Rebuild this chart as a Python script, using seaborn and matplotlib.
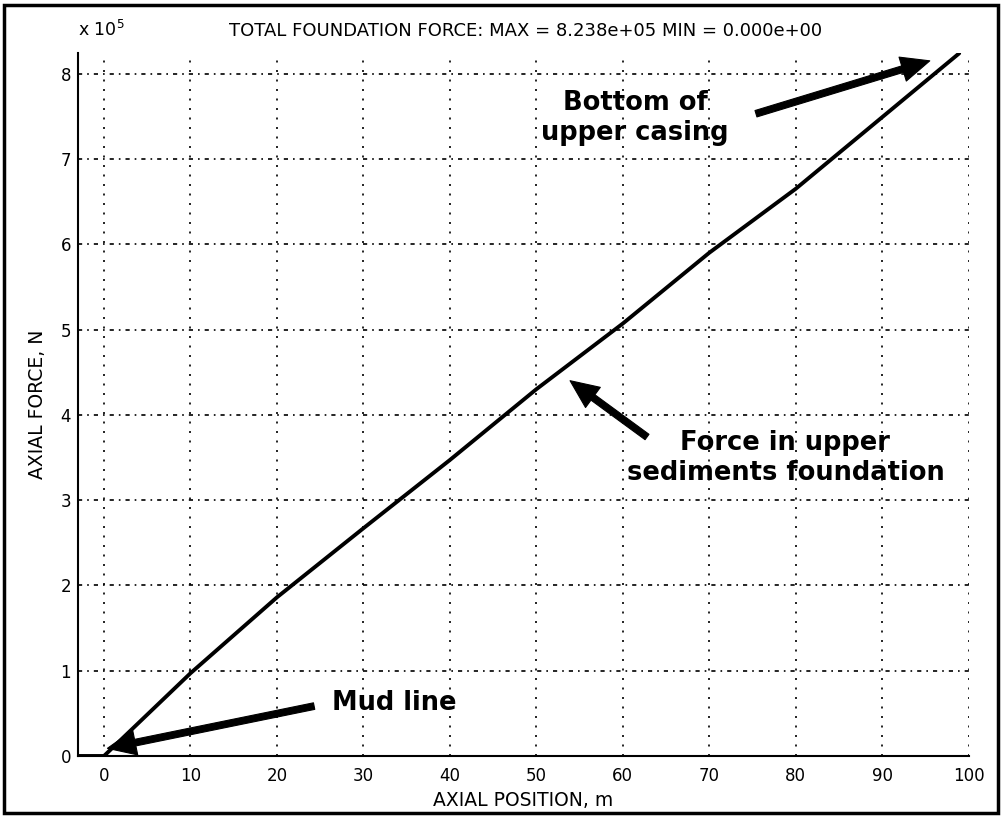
import matplotlib
matplotlib.use("Agg")
import matplotlib.pyplot as plt
from matplotlib.patches import Rectangle
from matplotlib.ticker import FuncFormatter
import seaborn as sns
import pandas as pd

# axial position (m) and total foundation force (N)
position = [-3, 0, 10, 20, 30, 40, 50, 60, 70, 80, 90, 98.9]
force = [0, 0, 0.97e5, 1.86e5, 2.67e5, 3.47e5, 4.30e5, 5.07e5, 5.90e5, 6.65e5, 7.49e5, 8.238e5]

x_ticks = [0, 10, 20, 30, 40, 50, 60, 70, 80, 90, 100]
y_ticks = [0, 1e5, 2e5, 3e5, 4e5, 5e5, 6e5, 7e5, 8e5]

# annotations: (text, text position, arrow tail, arrow tip)
notes = [
    ("Bottom of\nupper casing", (61.4, 7.48e5), (75.4, 7.53e5), (95.5, 8.15e5)),
    ("Force in upper\nsediments foundation", (78.8, 3.49e5), (62.8, 3.74e5), (53.9, 4.40e5)),
    ("Mud line", (33.6, 0.62e5), (24.3, 0.585e5), (0.4, 0.09e5)),
]

sns.set_style("white")
plt.rcParams['font.family'] = ['DejaVu Sans']
plt.rcParams['text.color'] = 'black'
plt.rcParams['axes.labelcolor'] = 'black'

df = pd.DataFrame({"pos": position, "force": force})

fig = plt.figure(figsize=(10.03, 8.18), dpi=100)
ax = fig.add_axes([0.0778, 0.0758, 0.888, 0.859])

sns.lineplot(data=df, x="pos", y="force", color="black", linewidth=2.8, ax=ax)

ax.set_xlim(-3, 100)
ax.set_ylim(0, 8.238e5)
ax.set_xticks(x_ticks)
ax.set_yticks(y_ticks)
ax.yaxis.set_major_formatter(FuncFormatter(lambda v, p: "%d" % round(v / 1e5)))

# matlab-ish grid
for xv in x_ticks:
    ax.axvline(xv, color="black", lw=1.2, ls=(0, (1.2, 4.5)), zorder=0)
for yv in y_ticks[1:]:
    ax.axhline(yv, color="black", lw=1.2, ls=(0, (2.5, 3, 1, 3)), zorder=0)

sns.despine(ax=ax)
for s in ["left", "bottom"]:
    ax.spines[s].set_linewidth(1.5)
    ax.spines[s].set_color("black")
ax.tick_params(direction="in", length=5.5, width=1.3, labelsize=12, colors="black")
ax.tick_params(axis="x", pad=8)
ax.tick_params(axis="y", pad=5)

ax.set_xlabel("AXIAL POSITION, m", fontsize=13.5, labelpad=4)
ax.set_ylabel("AXIAL FORCE, N", fontsize=13.5, labelpad=10)

fig.text(526 / 1003, 1 - 31.5 / 818,
         "TOTAL FOUNDATION FORCE: MAX = 8.238e+05 MIN = 0.000e+00",
         ha="center", va="center", fontsize=13)
fig.text(78 / 1003, 1 - 30 / 818, r"x 10$^5$", ha="left", va="center", fontsize=12.5)

for label, txt_pos, tail, tip in notes:
    ax.text(txt_pos[0], txt_pos[1], label, ha="center", va="center",
            fontsize=18.5, fontweight="bold", linespacing=1.2, color="black")
    ax.annotate("", xy=tip, xytext=tail,
                arrowprops=dict(arrowstyle="simple,head_length=0.85,head_width=0.75,tail_width=0.2",
                                fc="black", ec="black", lw=0.8, mutation_scale=24,
                                shrinkA=0, shrinkB=0))

# outer frame around the figure
fig.patches.append(Rectangle((0.004, 0.006), 0.991, 0.988, transform=fig.transFigure,
                             fill=False, edgecolor="black", linewidth=2.5))

fig.savefig("out.png", dpi=100)
